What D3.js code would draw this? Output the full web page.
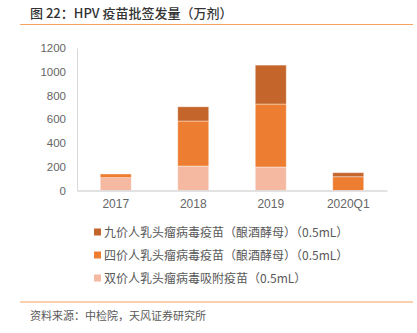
<!DOCTYPE html>
<html><head><meta charset="utf-8">
<script src="https://cdn.jsdelivr.net/npm/d3@7"></script>
<style>body{margin:0;background:#fff;}svg{display:block;font-family:"Noto Sans CJK SC","Liberation Sans",sans-serif;}</style>
</head><body><svg id="c" width="417" height="333"></svg>
<script>
const categories = ["2017","2018","2019","2020Q1"];
const seriesNames = ["九价人乳头瘤病毒疫苗（酿酒酵母）（0.5mL）","四价人乳头瘤病毒疫苗（酿酒酵母）（0.5mL）","双价人乳头瘤病毒吸附疫苗（0.5mL）"];
const bivalent = [108, 206, 198, 0];
const quadrivalent = [31, 379, 530, 116];
const nonavalent = [0, 120, 328, 34];
const yTicks = [0,200,400,600,800,1000,1200];
const colors = {bi:"#F5B9A2", quad:"#ED7D31", nona:"#C4662B"};

const svg = d3.select("#c");
const rows = categories.map((c,i)=>({cat:c, bi:bivalent[i], quad:quadrivalent[i], nona:nonavalent[i]}));
const stack = d3.stack().keys(["bi","quad","nona"])(rows);

const x = d3.scaleBand().domain(categories).range([77,387]).paddingInner(0.6).paddingOuter(0.3);
const y = d3.scaleLinear().domain([0,1200]).range([190.5,48]);

// title
svg.append("text").attr("x",30).attr("y",18).attr("font-size",13).attr("font-weight",500).attr("fill","#333")
  .text("图 22：HPV 疫苗批签发量（万剂）");
svg.append("line").attr("x1",20).attr("x2",413).attr("y1",24.5).attr("y2",24.5).attr("stroke","#F4A460").attr("stroke-width",1.2);

// y axis
const ya = svg.append("g").attr("transform","translate(77,0)").call(d3.axisLeft(y).tickValues(yTicks).tickFormat(d3.format("d")).tickSize(0).tickPadding(11));
ya.select(".domain").attr("stroke","#D9D9D9");
ya.selectAll("text").attr("font-size",11.5).attr("fill","#666").attr("font-family","Liberation Sans, sans-serif");

// bars
svg.append("g").selectAll("g").data(stack).join("g")
  .attr("fill",d=>colors[d.key])
  .selectAll("rect").data(d=>d).join("rect")
  .attr("x",d=>x(d.data.cat)).attr("width",x.bandwidth())
  .attr("y",d=>y(d[1])).attr("height",d=>Math.max(0,y(d[0])-y(d[1])))
  .attr("stroke","#fff").attr("stroke-opacity",0.5).attr("stroke-width",0.8);

// x axis
const xa = svg.append("g").attr("transform","translate(0,190.5)").call(d3.axisBottom(x).tickSize(0).tickPadding(9));
xa.select(".domain").attr("stroke","#D9D9D9").attr("stroke-width",1.5);
xa.selectAll("text").attr("font-size",12).attr("fill","#666").attr("font-family","Liberation Sans, sans-serif");

// legend
const leg = svg.append("g");
const legKeys = ["nona","quad","bi"];
seriesNames.forEach((n,i)=>{
  const yy = 232 + i*23;
  leg.append("rect").attr("x",94).attr("y",yy-3.5).attr("width",7).attr("height",7).attr("fill",colors[legKeys[i]]);
  leg.append("text").attr("x",104).attr("y",yy+4.5).attr("font-size",12).attr("fill","#595959").text(n);
});

// footer
svg.append("line").attr("x1",20).attr("x2",413).attr("y1",302).attr("y2",302).attr("stroke","#F4A460").attr("stroke-width",1.2);
svg.append("text").attr("x",30).attr("y",320).attr("font-size",11).attr("fill","#595959").text("资料来源：中检院，天风证券研究所");
</script></body></html>
